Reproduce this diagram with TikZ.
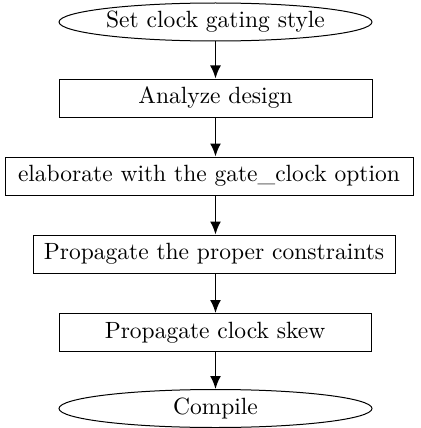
\documentclass[tikz,border=0pt]{standalone}
\usepackage{fontspec}
\newfontfamily\flowfont{lmroman10-regular.otf}
\usetikzlibrary{shapes.geometric,arrows.meta}
\begin{document}
\begin{tikzpicture}[x=1pt,y=-1pt,
    every node/.style={font=\flowfont\fontsize{23.5}{28}\selectfont},
    blk/.style={draw,rectangle,line width=1pt,minimum height=38pt,inner sep=0pt},
    term/.style={draw,ellipse,line width=1pt,minimum width=313pt,minimum height=38pt,inner sep=0pt},
    flow/.style={line width=1.8pt,-{Latex[length=13pt,width=11pt]}}]
   \useasboundingbox (0,0) rectangle (420,428);
   \node[term] (style)   at (215.5,22)    {Set clock gating style};
   \node[blk,minimum width=313pt] (analyze) at (215.5,98)  {Analyze design};
   \node[blk,minimum width=408pt] (elab)    at (209,176)   {elaborate with the gate\_clock option};
   \node[blk,minimum width=362pt] (constr)  at (214,254)   {Propagate the proper constraints};
   \node[blk,minimum width=312pt] (skew)    at (215,332.5) {Propagate clock skew};
   \node[term] (compile) at (215.5,408.5) {Compile};
   \draw[flow] (style)   -- (analyze);
   \draw[flow] (analyze) -- (analyze |- elab.north);
   \draw[flow] (analyze |- elab.south)   -- (analyze |- constr.north);
   \draw[flow] (analyze |- constr.south) -- (analyze |- skew.north);
   \draw[flow] (analyze |- skew.south)   -- (compile);
\end{tikzpicture}
\end{document}
